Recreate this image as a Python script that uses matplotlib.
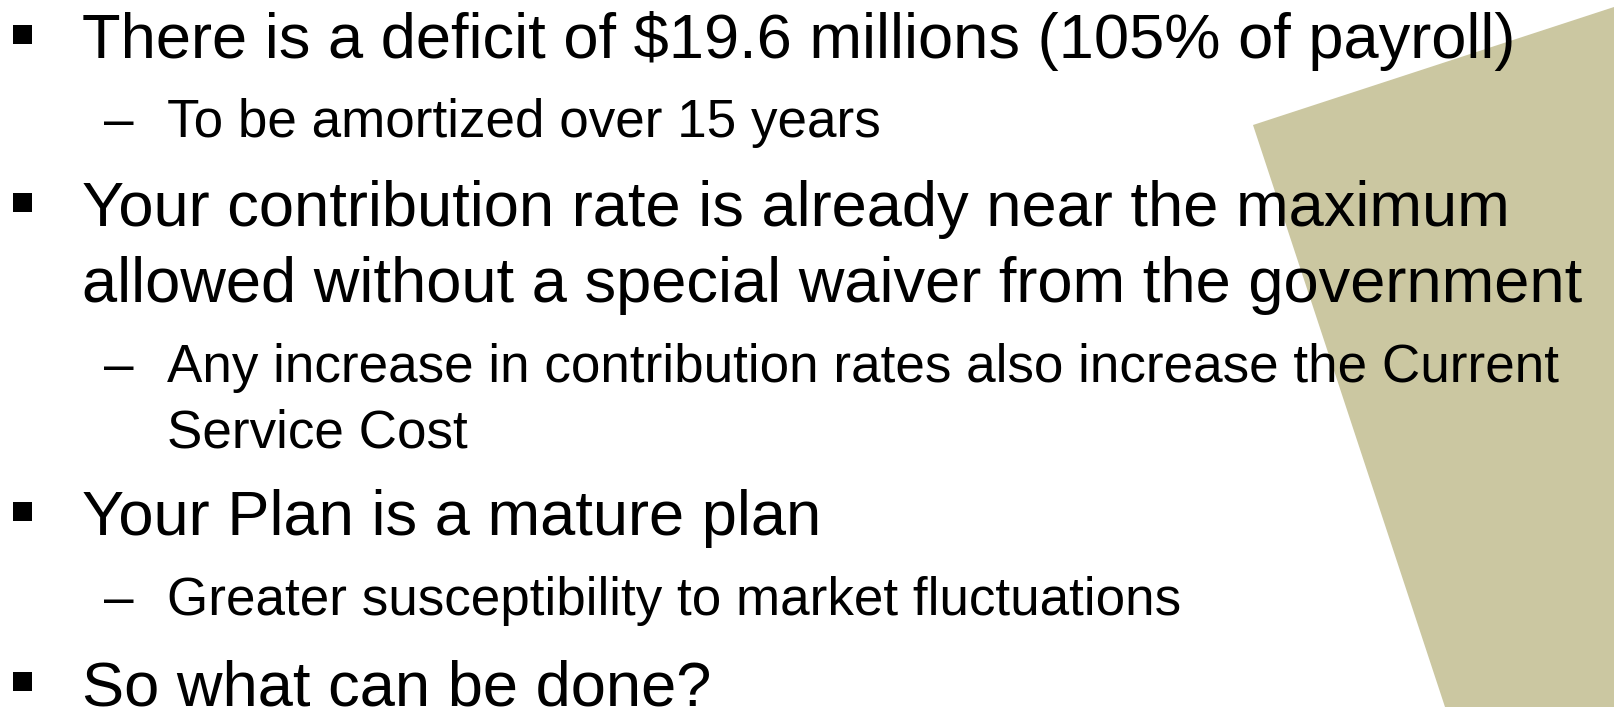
import matplotlib
matplotlib.use("Agg")
import matplotlib.pyplot as plt
from matplotlib.patches import Rectangle

W, H = 1614, 707

# Slide content
levels = [0, 1, 0, 0, 1, 1, 0, 1, 0]
lines = [
    "There is a deficit of $19.6 millions (105% of payroll)",
    "To be amortized over 15 years",
    "Your contribution rate is already near the maximum",
    "allowed without a special waiver from the government",
    "Any increase in contribution rates also increase the Current",
    "Service Cost",
    "Your Plan is a mature plan",
    "Greater susceptibility to market fluctuations",
    "So what can be done?",
]
marker = [True, True, True, False, True, False, True, True, True]
baselines = [58, 137, 226, 302, 382, 447, 535, 615, 705]

# Decorative background shape (pixel coordinates)
shape_x = [1253, 1614, 1614, 1445]
shape_y = [125, 7, 707, 707]
shape_color = "#CBC7A1"

fig = plt.figure(figsize=(W / 100, H / 100), dpi=100)
ax = fig.add_axes([0, 0, 1, 1])
ax.set_xlim(0, W)
ax.set_ylim(H, 0)
ax.axis("off")

ax.fill(shape_x, shape_y, color=shape_color, zorder=0, lw=0)

main_fs = 45.5
sub_fs = 38.2
font = "Liberation Sans"
sq = 19

for lvl, txt, mk, yb in zip(levels, lines, marker, baselines):
    if lvl == 0:
        ax.text(82, yb, txt, fontsize=main_fs, family=font, va="baseline",
                ha="left", color="black", zorder=2)
        if mk:
            ax.add_patch(Rectangle((13, yb - 24 - sq / 2), sq, sq,
                                   color="black", lw=0, zorder=2))
    else:
        ax.text(167, yb, txt, fontsize=sub_fs, family=font, va="baseline",
                ha="left", color="black", zorder=2)
        if mk:
            ax.text(104, yb, "\u2013", fontsize=sub_fs, family=font,
                    va="baseline", ha="left", color="black", zorder=2)

fig.savefig("out.png", dpi=100, facecolor="white")
